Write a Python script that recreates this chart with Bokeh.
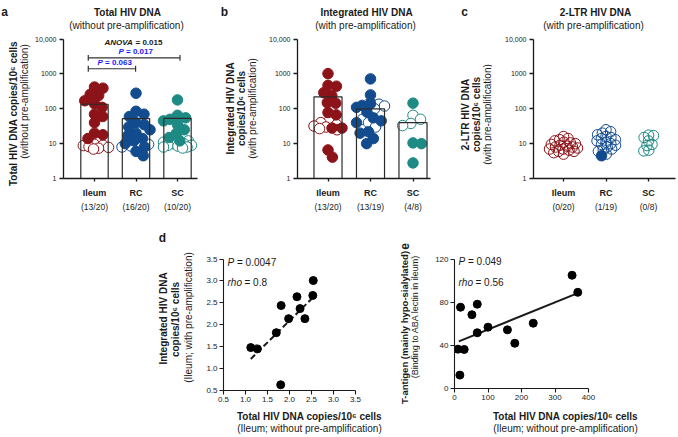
import numpy as np
from bokeh.plotting import figure
from bokeh.models import (Label, FixedTicker, Range1d, Whisker, TeeHead, ColumnDataSource,
                          NumeralTickFormatter, LinearAxis)
from bokeh.layouts import row, column
from bokeh.embed import file_html
from bokeh.resources import INLINE

FONT = "Liberation Sans"
INK = "#1a1a1a"
RED = "#8c1419"
BLUE = "#134b8f"
TEAL = "#1e8a84"
PBLUE = "#1a1aff"
ROT = np.pi / 2

# ---------------- data ----------------
categories = ["Ileum", "RC", "SC"]

# panel a: total HIV DNA (log scale)
a_counts = ["(13/20)", "(16/20)", "(10/20)"]
a_ileum_filled = [420, 390, 260, 240, 170, 140, 110, 70, 60, 40, 20, 18, 14]
a_ileum_open = [9.5, 9.0, 8.8, 8.2, 7.8, 7.4, 7.0]
a_rc_filled = [280, 85, 70, 60, 40, 35, 30, 25, 20, 17, 14, 12, 10, 8, 6, 4.5]
a_rc_open = [9.5, 9.0, 8.5, 8.0]
a_sc_filled = [180, 65, 55, 50, 45, 35, 25, 20, 15, 12]
a_sc_open = [12, 11, 10, 10, 9, 9, 8.5, 8, 8, 7.5]
a_mean = [135, 52, 53]
a_err_lo = [97, 36, 38]
a_err_hi = [190, 72, 72]
a_anova = "= 0.015"
a_pvals = ["= 0.017", "= 0.063"]

# panel b: integrated HIV DNA
b_counts = ["(13/20)", "(13/19)", "(4/8)"]
b_ileum_filled = [1020, 470, 445, 290, 240, 150, 144, 78, 67, 28, 28, 6.6, 4.1]
b_ileum_open = [45, 40, 35, 32, 30, 27, 25]
b_rc_filled = [720, 250, 140, 125, 110, 80, 55, 45, 40, 22, 20, 14, 10]
b_rc_open = [135, 120, 100, 50, 40, 30]
b_sc_filled = [145, 10.5, 10, 2.8]
b_sc_open = [65, 50, 38, 33]
b_mean = [220, 100, 40]
b_err_lo = [150, 60, 8]
b_err_hi = [290, 180, 78]

# panel c: 2-LTR HIV DNA
c_counts = ["(0/20)", "(1/19)", "(0/8)"]
c_ileum_filled = []
c_ileum_open = [16, 14, 13, 12, 11, 10.5, 10, 9.5, 9, 8.5, 8, 8, 7.5, 7, 7, 6.5, 6, 6, 5.5, 5]
c_rc_filled = [4.5]
c_rc_open = [25, 22, 20, 18, 16, 15, 14, 13, 12, 11, 10, 9.5, 9, 8, 7, 6.5, 6, 5]
c_sc_filled = []
c_sc_open = [17.5, 17, 15, 12, 9.5, 8.8, 6.5, 6.2]

log_ticks = [1, 10, 100, 1000, 10000]
log_tick_labels = ["1", "10", "100", "1000", "10,000"]

# panel d: correlation (log10 values)
d_x = [1.12, 1.27, 1.80, 1.70, 1.81, 1.98, 2.17, 2.24, 2.35, 2.53, 2.54]
d_y = [1.48, 1.45, 0.63, 1.82, 2.44, 2.14, 2.64, 2.37, 2.14, 2.67, 3.01]
d_fit_x = [1.12, 2.50]
d_fit_y = [1.22, 2.59]
d_ticks = [0.5, 1.0, 1.5, 2.0, 2.5, 3.0, 3.5]

# panel e: T-antigen vs total HIV DNA
e_x = [18, 68, 52, 68, 100, 10, 29, 16, 158, 180, 235, 351, 368]
e_y = [75.8, 78.6, 68.8, 52, 57.2, 36.7, 36.4, 12.5, 54.7, 42.2, 60.9, 105.6, 89.7]
e_fit_x = [13, 368]
e_fit_y = [44, 89]
e_xticks = [0, 100, 200, 300, 400]
e_yticks = [0, 40, 80, 120]

x_title_bold = "Total HIV DNA copies/10\u2076 cells"
x_title_sub = "(Ileum; without pre-amplification)"


# ---------------- helpers ----------------
def label_fn(p, X, Y):
    def T(px, py, text, size, style="normal", color=INK, align="center", angle=0.0):
        p.add_layout(Label(x=X(px), y=Y(py), text=text, text_font=FONT,
                           text_font_size=f"{size}px", text_font_style=style,
                           text_color=color, text_align=align, text_baseline="middle",
                           angle=angle))
    return T


def make_tile(x0, y0, x1, y1, fl=None):
    """Text-only tile; data coordinates are page pixels. If fl is given the tile keeps
    the same left border as the plot above it, so its frame starts at page x = fl."""
    left = 0 if fl is None else fl - x0
    xs = x0 if fl is None else fl
    t = figure(width=x1 - x0, height=y1 - y0, x_range=Range1d(xs, x1), y_range=Range1d(y1, y0),
               output_backend="svg", toolbar_location=None, min_border=0,
               min_border_left=left, min_border_right=0, min_border_top=0, min_border_bottom=0,
               x_axis_location=None, y_axis_location=None)
    t.outline_line_color = None
    t.background_fill_color = None
    t.border_fill_color = None
    t.grid.visible = False
    return t, label_fn(t, lambda v: v, lambda v: v)


def make_panel(cx0, cy0, cx1, cy1, fl, fb, xmap, ymap, ylog):
    px0, v0, ppu = xmap
    py0, w0, ppv = ymap

    def X(px):
        return v0 + (px - px0) / ppu

    if ylog:
        def Y(py):
            return float(10 ** (w0 + (py0 - py) / ppv))
    else:
        def Y(py):
            return w0 + (py0 - py) / ppv

    p = figure(width=cx1 - cx0, height=cy1 - cy0,
               x_range=Range1d(X(fl), X(cx1)), y_range=Range1d(Y(fb), Y(cy0)),
               y_axis_type=("log" if ylog else "linear"),
               output_backend="svg", toolbar_location=None,
               min_border_left=fl - cx0, min_border_right=0,
               min_border_top=0, min_border_bottom=cy1 - fb)
    p.outline_line_color = None
    p.xgrid.visible = False
    p.ygrid.visible = False
    p.background_fill_color = None
    p.border_fill_color = None
    for ax in (p.xaxis[0], p.yaxis[0]):
        ax.axis_line_color = INK
        ax.axis_line_width = 1.3
        ax.major_tick_line_color = INK
        ax.major_tick_line_width = 1.3
        ax.major_tick_in = 0
        ax.major_tick_out = 4
        ax.minor_tick_line_color = None
        ax.major_label_text_font = FONT
        ax.major_label_text_color = INK
        ax.major_label_standoff = 3
    return p, X, Y, label_fn(p, X, Y)


def swarm(values, px_dec, dmin, maxoff):
    ys = np.log10(np.asarray(values, float)) * px_dec
    order = np.argsort(-ys, kind="stable")
    xs = np.zeros(len(ys))
    placed = []
    grid = np.arange(-maxoff, maxoff + 0.01, 0.5)
    for i in order:
        y = ys[i]
        cands = [0.0]
        for xj, yj in placed:
            dy = y - yj
            if abs(dy) < dmin:
                dx = np.sqrt(dmin ** 2 - dy ** 2)
                cands += [xj + dx, xj - dx]
        cands = sorted([c for c in cands if abs(c) <= maxoff], key=abs)
        chosen = None
        for c in cands:
            if all((c - xj) ** 2 + (y - yj) ** 2 >= dmin ** 2 - 1e-6 for xj, yj in placed):
                chosen = c
                break
        if chosen is None:
            def score(g):
                return (min((g - xj) ** 2 + (y - yj) ** 2 for xj, yj in placed), -abs(g))
            chosen = max(grid, key=score)
        xs[i] = chosen
        placed.append((chosen, y))
    return xs


PX_DEC = 35.25


def cat_panel(p, X, groups, colors, px_unit, dmin, right_px, means=None, lo=None, hi=None,
              open_alpha=1.0):
    ya = p.yaxis[0]
    ya.ticker = FixedTicker(ticks=log_ticks, minor_ticks=[])
    ya.major_label_overrides = dict(zip(log_ticks, log_tick_labels))
    ya.major_label_text_font_size = "7px"
    ya.bounds = (1, 10000)
    idx = list(range(len(categories)))
    xa = p.xaxis[0]
    xa.ticker = FixedTicker(ticks=idx, minor_ticks=[])
    xa.major_label_overrides = dict(zip(idx, categories))
    xa.major_label_text_font_size = "9px"
    xa.major_label_text_font_style = "bold"
    xa.major_tick_out = 3
    xa.major_label_standoff = 6
    xa.bounds = (p.x_range.start, X(right_px))
    if means is not None:
        p.vbar(x=idx, top=means, bottom=1, width=0.66, fill_color="white", line_color=None)
    fx, fy, fc, ox_, oy_, oc = [], [], [], [], [], []
    for k, (filled, opened) in enumerate(groups):
        vals = list(filled) + list(opened)
        offs = swarm(vals, PX_DEC, dmin, 14) / px_unit
        for j, v in enumerate(vals):
            if j < len(filled):
                fx.append(k + offs[j]); fy.append(v); fc.append(colors[k])
            else:
                ox_.append(k + offs[j]); oy_.append(v); oc.append(colors[k])
    p.scatter(x=ox_, y=oy_, size=10.5, fill_color="white", fill_alpha=open_alpha,
              line_color=oc, line_width=1.0)
    p.scatter(x=fx, y=fy, size=10.5, fill_color=fc, line_color=fc, line_width=1.0)
    if means is not None:
        p.vbar(x=idx, top=means, bottom=1, width=0.66, fill_color=None,
               line_color="#2b2b2b", line_width=1.2)
        src = ColumnDataSource(dict(x=idx, lo=lo, hi=hi))
        p.add_layout(Whisker(base="x", lower="lo", upper="hi", source=src,
                             line_color=INK, line_width=1.1,
                             upper_head=TeeHead(size=10, line_color=INK, line_width=1.1),
                             lower_head=TeeHead(size=10, line_color=INK, line_width=1.1)))


def scatter_axes(p, xt, yt, xb, yb, title_standoff, sub_standoff):
    p.xaxis[0].ticker = FixedTicker(ticks=xt, minor_ticks=[])
    p.yaxis[0].ticker = FixedTicker(ticks=yt, minor_ticks=[])
    p.xaxis[0].bounds = xb
    p.yaxis[0].bounds = yb
    for ax in (p.xaxis[0], p.yaxis[0]):
        ax.major_label_text_font_size = "8px"
        ax.axis_line_width = 1.1
        ax.major_tick_line_width = 1.1
        ax.major_label_standoff = 2
    # two-line x title: bold on the main axis, plain line on a bare helper axis
    xa = p.xaxis[0]
    xa.axis_label = x_title_bold
    xa.axis_label_text_font = FONT
    xa.axis_label_text_font_size = "10px"
    xa.axis_label_text_font_style = "bold"
    xa.axis_label_text_color = INK
    xa.axis_label_standoff = title_standoff
    helper = LinearAxis(ticker=FixedTicker(ticks=[], minor_ticks=[]), bounds=xb,
                        axis_line_color=None, major_tick_line_color=None,
                        minor_tick_line_color=None, major_tick_out=0, major_label_standoff=0,
                        axis_label=x_title_sub, axis_label_text_font=FONT,
                        axis_label_text_font_size="10px", axis_label_text_font_style="normal",
                        axis_label_text_color=INK, axis_label_standoff=sub_standoff)
    p.add_layout(helper, "below")


# ---------------- panel a ----------------
tA, TA = make_tile(0, 0, 32, 222)
pa, Xa, Ya, Ta = make_panel(32, 0, 220, 200, 63, 180, (94, 0, 41.5), (180, 0, 35.25), True)
cat_panel(pa, Xa, [(a_ileum_filled, a_ileum_open), (a_rc_filled, a_rc_open), (a_sc_filled, a_sc_open)],
          [RED, BLUE, TEAL], 41.5, 8.5, 197, a_mean, a_err_lo, a_err_hi)
tAb, TAb = make_tile(32, 200, 220, 222, fl=63)
TA(4, 11, "a", 12, "bold")
TA(13, 113, "Total HIV DNA copies/10\u2076 cells", 10, "bold", angle=ROT)
TA(24, 101, "(without pre-amplification)", 10, angle=ROT)
Ta(127, 12, "Total HIV DNA", 10, "bold")
Ta(126, 25, "(without pre-amplification)", 10)
for k in range(3):
    TAb(94 + 41.5 * k, 206, a_counts[k], 8.5)
Ta(104, 42, "ANOVA", 8, "bold italic", align="left")
Ta(135, 42, a_anova, 8, "bold", align="left")
for (c0, c1, pyb, pyt, ptxt, pxl) in [(0, 2, 58, 52, a_pvals[0], 118), (0, 1, 69, 63, a_pvals[1], 97)]:
    xa0 = c0 - 0.15
    xa1 = c1 + (0.06 if c1 == 2 else -0.01)
    pa.segment(x0=[xa0], y0=[Ya(pyb)], x1=[xa1], y1=[Ya(pyb)], line_color="#333333", line_width=1.2)
    pa.segment(x0=[xa0, xa1], y0=[Ya(pyb - 3), Ya(pyb - 3)], x1=[xa0, xa1], y1=[Ya(pyb + 3), Ya(pyb + 3)],
               line_color="#333333", line_width=1.2)
    Ta(pxl, pyt, "P", 8, "bold italic", color=PBLUE, align="left")
    Ta(pxl + 7.5, pyt, ptxt, 8, "bold", color=PBLUE, align="left")

# ---------------- panel b ----------------
tB, TB = make_tile(220, 0, 262, 222)
pb, Xb, Yb, Tb = make_panel(262, 0, 437, 200, 297, 180, (327.5, 0, 42.5), (180, 0, 35.25), True)
cat_panel(pb, Xb, [(b_ileum_filled, b_ileum_open), (b_rc_filled, b_rc_open), (b_sc_filled, b_sc_open)],
          [RED, BLUE, TEAL], 42.5, 8.5, 430, b_mean, b_err_lo, b_err_hi)
tBb, TBb = make_tile(262, 200, 437, 222, fl=297)
TB(224, 11, "b", 12, "bold")
TB(230, 108, "Integrated HIV DNA", 10, "bold", angle=ROT)
TB(241, 108, "copies/10\u2076 cells", 10, "bold", angle=ROT)
TB(252, 108, "(with pre-amplification)", 10, angle=ROT)
Tb(366, 12, "Integrated HIV DNA", 10, "bold")
Tb(365, 25, "(with pre-amplification)", 10)
for k in range(3):
    TBb(327.5 + 42.5 * k, 206, b_counts[k], 8.5)

# ---------------- panel c ----------------
tC, TC = make_tile(437, 0, 492, 222)
pc, Xc, Yc, Tc = make_panel(492, 0, 676, 200, 533, 180, (563, 0, 42.5), (180, 0, 35.25), True)
cat_panel(pc, Xc, [(c_ileum_filled, c_ileum_open), (c_rc_filled, c_rc_open), (c_sc_filled, c_sc_open)],
          [RED, BLUE, TEAL], 42.5, 5.0, 675, open_alpha=0.0)
tCb, TCb = make_tile(492, 200, 676, 222, fl=533)
TC(464, 11, "c", 12, "bold")
TC(465, 114, "2-LTR HIV DNA", 10, "bold", angle=ROT)
TC(476, 114, "copies/10\u2076 cells", 10, "bold", angle=ROT)
TC(486.5, 114, "(with pre-amplification)", 10, angle=ROT)
Tc(595, 12, "2-LTR HIV DNA", 10, "bold")
Tc(593, 25, "(with pre-amplification)", 10)
for k in range(3):
    TCb(563 + 42.5 * k, 206, c_counts[k], 8.5)

# ---------------- panel d ----------------
tD, TD = make_tile(0, 222, 195, 436)
pd_, Xd, Yd, Td = make_panel(195, 222, 395, 436, 223, 392, (223, 0.5, 44.0), (392, 0.5, 44.33), False)
scatter_axes(pd_, d_ticks, d_ticks, (0.5, 3.5), (0.5, 3.5), 6, -2)
pd_.xaxis[0].formatter = NumeralTickFormatter(format="0.0")
pd_.yaxis[0].formatter = NumeralTickFormatter(format="0.0")
pd_.line(d_fit_x, d_fit_y, line_color=INK, line_width=2, line_dash="6 3")
pd_.scatter(d_x, d_y, size=8, fill_color="black", line_color="black")
Td(227, 262, "P", 10, "italic", align="left")
Td(236.5, 262, "= 0.0047", 10, align="left")
Td(227, 283, "rho", 10, "italic", align="left")
Td(244, 283, "= 0.8", 10, align="left")
TD(162, 237, "d", 12, "bold")
TD(163, 318, "Integrated HIV DNA", 10, "bold", angle=ROT)
TD(175, 319, "copies/10\u2076 cells", 10, "bold", angle=ROT)
TD(188, 317, "(Ileum; with pre-amplification)", 10, angle=ROT)

# ---------------- panel e ----------------
tE, TE = make_tile(395, 222, 420, 436)
pe, Xe, Ye, Te = make_panel(420, 222, 676, 436, 454, 391, (454, 0, 0.335), (391, 0, 1.0917), False)
scatter_axes(pe, e_xticks, e_yticks, (0, 400), (0, 120), 8, -2)
pe.line(e_fit_x, e_fit_y, line_color=INK, line_width=2)
pe.scatter(e_x, e_y, size=8, fill_color="black", line_color="black")
Te(458, 262, "P", 10, "italic", align="left")
Te(467.5, 262, "= 0.049", 10, align="left")
Te(458, 283, "rho", 10, "italic", align="left")
Te(475, 283, "= 0.56", 10, align="left")
TE(404, 246, "e", 12, "bold", angle=ROT)
TE(404, 327, "T-antigen (mainly hypo-sialylated)", 9.5, "bold", angle=ROT)
TE(414, 316, "(Binding to ABA lectin in ileum)", 9, angle=ROT)

top = row(tA, column(pa, tAb), tB, column(pb, tBb), tC, column(pc, tCb))
bottom = row(tD, column(pd_), tE, column(pe))
layout = column(top, bottom)
open("out.html", "w").write(file_html(layout, INLINE))
